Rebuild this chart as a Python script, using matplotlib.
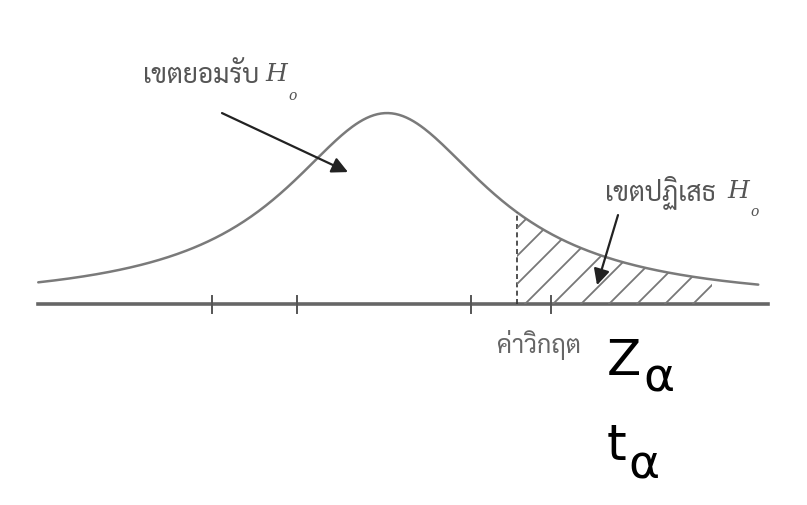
import numpy as np
import matplotlib
matplotlib.use("Agg")
from matplotlib import pyplot as plt

# diagram values (z-like units, peak height = 1)
curve_range = [-2.79, 2.97]
axis_range = [-2.79, 3.05]
peak_height = 1.0
tick_positions = [-1.4, -0.72, 0.67, 1.31]
critical_value = 1.04
hatch_end = 2.6

accept_label = "เขตยอมรับ"
reject_label = "เขตปฏิเสธ"
critical_label = "ค่าวิกฤต"
h0_label = "H"
h0_sub = "o"
stat_labels = ["Z", "t"]

THAI = ["Sarabun", "Noto Sans Thai", "Anuphan", "DejaVu Sans"]


def density(x):
    # t density with 1 degree of freedom, scaled to the peak
    return peak_height / (1.0 + x**2)


fig = plt.figure(figsize=(8.07, 5.05), dpi=100)
ax = fig.add_axes([0, 0, 1, 1])
ax.set_xlim(-3.096, 3.36)
ax.set_ylim(-1.052, 1.592)
ax.axis("off")

# curve
xs = np.linspace(curve_range[0], curve_range[1], 400)
ax.plot(xs, density(xs), color="#7a7a7a", lw=1.8, solid_capstyle="round")

# axis line and ticks
ax.plot(axis_range, [0, 0], color="#666666", lw=2.6)
for t in tick_positions:
    ax.plot([t, t], [-0.045, 0.04], color="#555555", lw=1.4)

# critical value dashed line
ax.plot([critical_value, critical_value], [0, density(critical_value)],
        color="#333333", lw=1.2, ls=(0, (3, 2)))

# rejection region, hatched by hand so the spacing matches
xr = np.linspace(critical_value, hatch_end, 200)
region = ax.fill_between(xr, 0, density(xr), facecolor="none", edgecolor="none")
slope = 125.0 / 191.0
for x0 in np.arange(critical_value - 0.7, hatch_end + 0.2, 0.224):
    ln, = ax.plot([x0, x0 + 2.0], [-0.06, -0.06 + 2.0 * slope], color="#777777", lw=1.3)
    ln.set_clip_path(region.get_paths()[0], ax.transData)

# labels
ax.text(-1.952, 1.194, accept_label, family=THAI, fontsize=19, color="#555555", va="center")
ax.text(-0.976, 1.2, h0_label, family="DejaVu Serif", style="italic", fontsize=18,
        color="#555555", va="center")
ax.text(-0.79, 1.09, h0_sub, family="DejaVu Serif", style="italic", fontsize=10,
        color="#555555", va="center")

ax.text(1.744, 0.586, reject_label, family=THAI, fontsize=19, color="#555555", va="center")
ax.text(2.72, 0.59, h0_label, family="DejaVu Serif", style="italic", fontsize=18,
        color="#555555", va="center")
ax.text(2.91, 0.48, h0_sub, family="DejaVu Serif", style="italic", fontsize=10,
        color="#555555", va="center")

ax.text(0.88, -0.215, critical_label, family=THAI, fontsize=18, color="#666666", va="center")

# arrows
arrow = dict(arrowstyle="-|>", color="#222222", lw=1.6, mutation_scale=24,
             shrinkA=0, shrinkB=0)
ax.annotate("", xy=(-0.312, 0.691), xytext=(-1.32, 1.0), arrowprops=arrow)
ax.annotate("", xy=(1.68, 0.099), xytext=(1.848, 0.466), arrowprops=arrow)

# statistic labels
ax.text(1.76, -0.372, stat_labels[0], fontsize=36, color="black", va="baseline")
ax.text(2.048, -0.46, "α", fontsize=34, color="black", va="baseline")
ax.text(1.76, -0.817, stat_labels[1], fontsize=36, color="black", va="baseline")
ax.text(1.928, -0.911, "α", fontsize=34, color="black", va="baseline")

fig.savefig("out.png", dpi=100)
